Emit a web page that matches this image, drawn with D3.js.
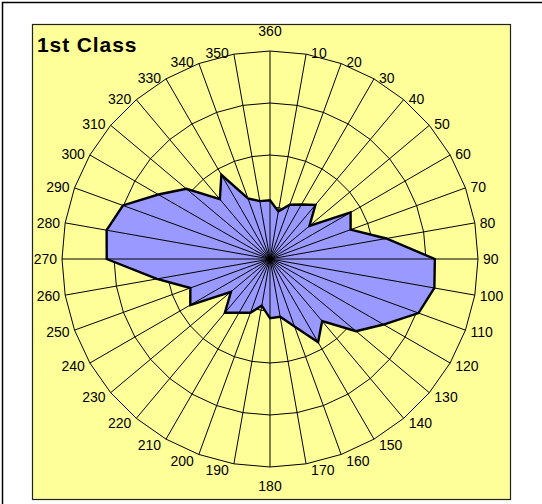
<!DOCTYPE html>
<html>
<head>
<meta charset="utf-8">
<script src="https://cdn.jsdelivr.net/npm/d3@7"></script>
<style>
    body { margin: 0; background: #ffffff; }
    svg { display: block; }
</style>
</head>
<body>
<svg width="542" height="504"></svg>
<script>
const title = '1st Class';

// compass directions, clockwise from the top
const directions = [360, 10, 20, 30, 40, 50, 60, 70, 80, 90, 100, 110, 120, 130, 140, 150, 160, 170,
    180, 190, 200, 210, 220, 230, 240, 250, 260, 270, 280, 290, 300, 310, 320, 330, 340, 350];

// values, one per direction
const values = [11.3, 9.3, 11.1, 12.1, 13.6, 9.9, 17.9, 16.5, 22.7, 31.7, 32.1, 30.4, 25.2, 21.6, 15.6, 18.5, 13.8, 11.3,
    11.4, 9.1, 11.0, 11.9, 13.5, 9.8, 17.7, 16.3, 22.1, 31.4, 31.9, 30.1, 24.8, 21.0, 15.0, 18.7, 12.4, 11.3];

// value axis gridlines (no labels shown)
const rings = [10, 20, 30, 40];

const width = 542;
const height = 504;
const cx = 270;
const cy = 259;
const radius = 208;

const svg = d3.select('svg');

// chart area frame
svg.append('rect')
    .attr('x', 2.5)
    .attr('y', 2.5)
    .attr('width', width + 10)
    .attr('height', height + 10)
    .attr('fill', '#ffffff')
    .attr('stroke', '#000000')
    .attr('stroke-width', 1.5);

// plot area
svg.append('rect')
    .attr('x', 32.5)
    .attr('y', 24.5)
    .attr('width', 478)
    .attr('height', 475)
    .attr('fill', '#ffff99')
    .attr('stroke', '#222222')
    .attr('stroke-width', 1.2);

svg.append('text')
    .attr('x', 37)
    .attr('y', 52)
    .attr('font-family', 'Liberation Sans, Arial, sans-serif')
    .attr('font-weight', 'bold')
    .attr('font-size', '21px')
    .attr('letter-spacing', '0.9px')
    .attr('fill', '#000000')
    .text(title);

const maxValue = d3.max(rings);
const r = d3.scaleLinear().domain([0, maxValue]).range([0, radius]);
const angle = d3.scaleLinear().domain([0, 360]).range([0, 2 * Math.PI]);

function px(deg, v) { return cx + r(v) * Math.sin(angle(deg % 360)); }
function py(deg, v) { return cy - r(v) * Math.cos(angle(deg % 360)); }

const g = svg.append('g');

// polygon gridlines, behind the series
g.selectAll('polygon.ring')
    .data(rings)
    .enter().append('polygon')
    .attr('class', 'ring')
    .attr('points', function (v) {
        return directions.map(function (d) { return px(d, v) + ',' + py(d, v); }).join(' ');
    })
    .attr('fill', 'none')
    .attr('stroke', '#000000')
    .attr('stroke-width', 1);

// series
const series = directions.map(function (d, i) { return [px(d, values[i]), py(d, values[i])]; });

g.append('path')
    .attr('d', d3.line()(series) + 'Z')
    .attr('fill', '#9999ff')
    .attr('stroke', '#000000')
    .attr('stroke-width', 2.4)
    .attr('stroke-linejoin', 'miter');

// spokes, drawn over the fill
g.selectAll('line.spoke')
    .data(directions)
    .enter().append('line')
    .attr('class', 'spoke')
    .attr('x1', cx)
    .attr('y1', cy)
    .attr('x2', function (d) { return px(d, maxValue); })
    .attr('y2', function (d) { return py(d, maxValue); })
    .attr('stroke', '#000000')
    .attr('stroke-width', 1);

// category labels
g.selectAll('text.cat')
    .data(directions)
    .enter().append('text')
    .attr('class', 'cat')
    .attr('font-family', 'Liberation Sans, Arial, sans-serif')
    .attr('font-size', '14px')
    .attr('fill', '#000000')
    .attr('dominant-baseline', 'central')
    .attr('text-anchor', function (d) {
        const a = d % 360;
        if (a === 0 || a === 180) return 'middle';
        return a < 180 ? 'start' : 'end';
    })
    .attr('x', function (d) {
        const a = d % 360;
        const x = px(d, maxValue);
        if (a === 0 || a === 180) return x;
        return a < 180 ? x + 5 : x - 5;
    })
    .attr('y', function (d) {
        const a = d % 360;
        const y = py(d, maxValue);
        if (a === 0) return y - 20;
        if (a === 180) return y + 19;
        const c = Math.cos(angle(a));
        return y - 1.5 * Math.max(0, c) + 6.5 * Math.max(0, -c);
    })
    .text(function (d) { return d; });
</script>
</body>
</html>
